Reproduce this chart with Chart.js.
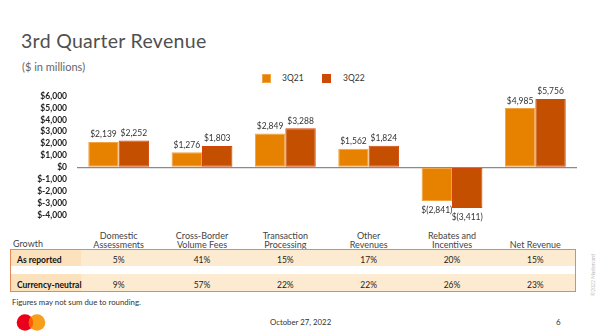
<!DOCTYPE html>
<html>
<head>
<meta charset="utf-8">
<script src="https://cdn.jsdelivr.net/npm/chart.js@4/dist/chart.umd.min.js"></script>
<style>
  html, body { margin: 0; padding: 0; background: #fff; }
  body { width: 600px; height: 336px; position: relative; overflow: hidden; font-family: Lato, "Open Sans", sans-serif; color: #333; }
  .abs { position: absolute; white-space: nowrap; }
  #title { left: 21px; top: 29px; font-size: 19.5px; color: #505050; font-weight: 400; letter-spacing: 0.3px; }
  #sub { left: 22px; top: 60px; font-size: 11px; color: #666; }
  #legend { left: 0; top: 72px; width: 600px; height: 12px; }
  .lg-box { position: absolute; top: 3px; width: 7px; height: 7px; }
  .lg-txt { position: absolute; top: 0; font-size: 8.5px; color: #333; line-height: 12px; }
  #chartWrap { left: 0; top: 80px; width: 590px; height: 150px; }
  .hdr { position: absolute; font-size: 9px; color: #444; text-align: center; line-height: 9px; transform: translateX(-50%); }
  #tbl { left: 10px; top: 249px; width: 564px; height: 41px; border: 1px solid #e58a55; }
  .row { position: absolute; left: 0; width: 564px; background: #fdebd1; }
  .row .lab { position: absolute; left: 0; top: 0; bottom: 0; width: 70px; background: #fbe2bd; }
  .cellTxt { position: absolute; font-size: 8.5px; line-height: 10px; color: #222; transform: translateX(-50%); }
  .rowLab { position: absolute; left: 6px; font-size: 8.5px; font-weight: 700; color: #111; line-height: 10px; }
  #note { left: 12px; top: 297px; font-size: 7.8px; color: #333; }
  #date { left: 270px; top: 317px; font-size: 7.8px; color: #333; }
  #page { left: 556px; top: 317px; font-size: 8px; color: #333; }
  #copy { left: 593px; top: 275px; font-size: 5px; color: #bbb; transform: translate(-50%, -50%) rotate(-90deg); }
</style>
</head>
<body>
<div class="abs" id="title">3rd Quarter Revenue</div>
<div class="abs" id="sub">($ in millions)</div>
<div class="abs" id="legend"></div>
<div class="abs" id="chartWrap"><canvas id="c"></canvas></div>
<div id="headers"></div>
<div class="abs" id="tbl"></div>
<div class="abs" id="note">Figures may not sum due to rounding.</div>
<svg class="abs" style="left:16px;top:313px" width="32" height="19" viewBox="0 0 32 19">
  <circle cx="9" cy="9.5" r="8.3" fill="#eb001b"/>
  <circle cx="21" cy="9.5" r="8.3" fill="#f79e1b"/>
  <path d="M15 3.8 A8.3 8.3 0 0 1 15 15.2 A8.3 8.3 0 0 1 15 3.8 Z" fill="#ff5f00"/>
</svg>
<div class="abs" id="date">October 27, 2022</div>
<div class="abs" id="page">6</div>
<div class="abs" id="copy">©2022 Mastercard</div>

<script>
// Revenue lines, in $ millions
const categories = ['Domestic Assessments', 'Cross-Border Volume Fees', 'Transaction Processing', 'Other Revenues', 'Rebates and Incentives', 'Net Revenue'];
const headerLines = [['Domestic', 'Assessments'], ['Cross-Border', 'Volume Fees'], ['Transaction', 'Processing'], ['Other', 'Revenues'], ['Rebates and', 'Incentives'], ['Net Revenue']];
const seriesNames = ['3Q21', '3Q22'];
const q3_2021 = [2139, 1276, 2849, 1562, -2841, 4985];
const q3_2022 = [2252, 1803, 3288, 1824, -3411, 5756];
const yTicks = [6000, 5000, 4000, 3000, 2000, 1000, 0, -1000, -2000, -3000, -4000];

// Growth table
const growthRows = ['As reported', 'Currency-neutral'];
const asReported = ['5%', '41%', '15%', '17%', '20%', '15%'];
const currencyNeutral = ['9%', '57%', '22%', '22%', '26%', '23%'];

const fills = ['#e68200', '#c44f00'];
const edges = ['#f0a445', '#d2460a'];

function money(v) {
  const s = Math.abs(v).toLocaleString('en-US');
  return v < 0 ? '$(' + s + ')' : '$' + s;
}
function tickMoney(v) {
  return v < 0 ? '$-' + Math.abs(v).toLocaleString('en-US') : '$' + v.toLocaleString('en-US');
}

// Legend
const legend = document.getElementById('legend');
const legendPos = [[263, 282], [323, 343]];
seriesNames.forEach((n, i) => {
  const b = document.createElement('div');
  b.className = 'lg-box';
  b.style.left = legendPos[i][0] + 'px';
  b.style.background = fills[i];
  b.style.outline = '1px solid ' + edges[i];
  legend.appendChild(b);
  const t = document.createElement('div');
  t.className = 'lg-txt';
  t.style.left = legendPos[i][1] + 'px';
  t.textContent = n;
  legend.appendChild(t);
});

// Value labels above positive bars, below negative ones
const valueLabels = {
  id: 'valueLabels',
  afterDatasetsDraw(chart) {
    const ctx = chart.ctx;
    ctx.save();
    ctx.font = '8.5px Lato, "Open Sans", sans-serif';
    ctx.fillStyle = '#333';
    ctx.textAlign = 'center';
    chart.data.datasets.forEach((ds, di) => {
      chart.getDatasetMeta(di).data.forEach((bar, i) => {
        const v = ds.data[i];
        if (v >= 0) {
          ctx.textBaseline = 'bottom';
          ctx.fillText(money(v), bar.x, bar.y - 3);
        } else {
          ctx.textBaseline = 'top';
          ctx.fillText(money(v), bar.x, bar.y + 5);
        }
      });
    });
    ctx.restore();
  }
};

const chart = new Chart(document.getElementById('c'), {
  type: 'bar',
  data: {
    labels: categories,
    datasets: [q3_2021, q3_2022].map((d, i) => ({
      label: seriesNames[i],
      data: d,
      backgroundColor: fills[i],
      borderColor: edges[i],
      borderWidth: 1,
      borderSkipped: false,
      categoryPercentage: 0.73,
      barPercentage: 1
    }))
  },
  options: {
    responsive: true,
    maintainAspectRatio: false,
    animation: false,
    layout: { padding: { top: 16, bottom: 14, left: 0, right: 13 } },
    plugins: { legend: { display: false }, tooltip: { enabled: false } },
    scales: {
      x: { display: false },
      y: {
        min: -4000, max: 6000,
        afterBuildTicks(scale) { scale.ticks = yTicks.map(v => ({ value: v })); },
        afterFit(scale) { scale.width = 77; },
        border: { display: false },
        grid: {
          drawTicks: false,
          color: c => (c.tick && c.tick.value === 0 ? '#8a8a8a' : 'rgba(0,0,0,0)'),
          lineWidth: 1.2
        },
        ticks: {
          autoSkip: false,
          padding: 10,
          color: '#222',
          font: { family: 'Lato, "Open Sans", sans-serif', size: 8.5, weight: 'bold' },
          callback: v => tickMoney(v)
        }
      }
    }
  },
  plugins: [valueLabels]
});

// Column headers and table body aligned with the chart's category positions
const xs = chart.scales.x;
const headers = document.getElementById('headers');
const growth = document.createElement('div');
growth.className = 'abs';
growth.style.cssText = 'left:13px;top:238px;font-size:9px;color:#444;';
growth.textContent = 'Growth';
headers.appendChild(growth);
headerLines.forEach((lines, i) => {
  const h = document.createElement('div');
  h.className = 'hdr';
  h.style.left = xs.getPixelForValue(i) + 'px';
  h.style.top = (lines.length === 2 ? 231 : 240) + 'px';
  h.innerHTML = lines.join('<br>');
  headers.appendChild(h);
});

const tbl = document.getElementById('tbl');
const rowGeom = [[0, 16], [24, 17]];
[asReported, currencyNeutral].forEach((vals, r) => {
  const row = document.createElement('div');
  row.className = 'row';
  row.style.top = rowGeom[r][0] + 'px';
  row.style.height = rowGeom[r][1] + 'px';
  row.innerHTML = '<div class="lab"></div>';
  const lab = document.createElement('div');
  lab.className = 'rowLab';
  lab.style.top = (r === 0 ? 5 : 6) + 'px';
  lab.textContent = growthRows[r];
  row.appendChild(lab);
  vals.forEach((v, i) => {
    const t = document.createElement('div');
    t.className = 'cellTxt';
    t.style.left = (xs.getPixelForValue(i) - 11) + 'px';
    t.style.top = (r === 0 ? 5 : 6) + 'px';
    t.textContent = v;
    row.appendChild(t);
  });
  tbl.appendChild(row);
});
</script>
</body>
</html>
